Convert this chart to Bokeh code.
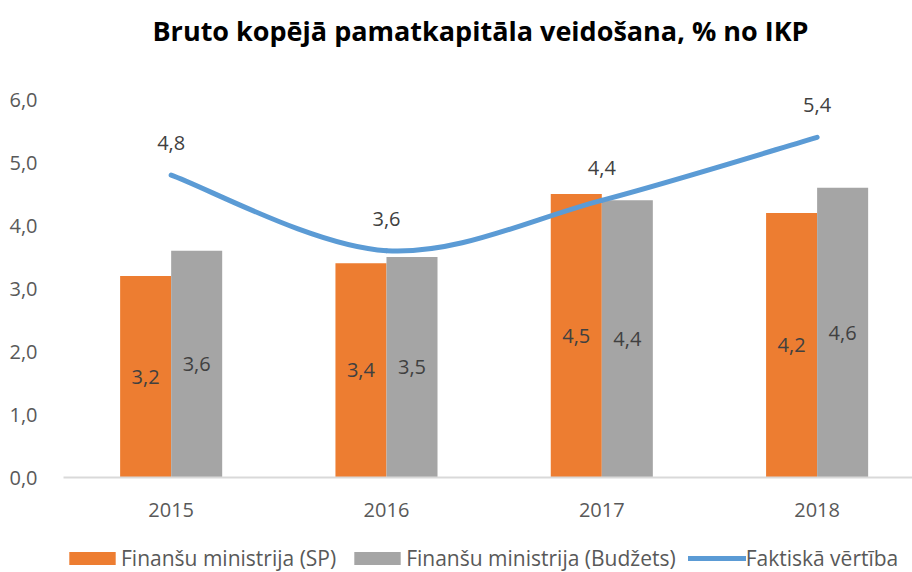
from bokeh.plotting import figure
from bokeh.layouts import column
from bokeh.models import (ColumnDataSource, Range1d, FixedTicker, Legend, LegendItem, Label)
from bokeh.embed import file_html
from bokeh.resources import INLINE

# ---- data ----
years = ["2015", "2016", "2017", "2018"]
fm_sp = [3.2, 3.4, 4.5, 4.2]
fm_budzets = [3.6, 3.5, 4.4, 4.6]
faktiska = [4.8, 3.6, 4.4, 5.4]
y_ticks = [0, 1, 2, 3, 4, 5, 6]

series_names = ["Finanšu ministrija (SP)", "Finanšu ministrija (Budžets)", "Faktiskā vērtība"]
title_text = "Bruto kopējā pamatkapitāla veidošana, % no IKP"

ORANGE = "#ED7D31"
GRAY = "#A5A5A5"
BLUE = "#5B9BD5"
LABEL_FONT = "Open Sans"


def fmt(v):
    return f"{v:.1f}".replace(".", ",")


xc = [i + 0.5 for i in range(len(years))]
bw = 0.237

# frame spans the full height above the axis so the title can sit inside it
p = figure(width=912, height=528, output_backend="svg", toolbar_location=None,
           x_range=Range1d(0, 3.943), y_range=Range1d(0, 477 / 63),
           min_border_left=63, min_border_right=0, min_border_top=0,
           min_border_bottom=51)
p.outline_line_color = None
p.grid.visible = False
p.background_fill_color = "white"

# title
p.add_layout(Label(x=417, y=447, x_units="screen", y_units="screen", text=title_text,
                   text_align="center", text_baseline="middle", text_font="Open Sans",
                   text_font_style="bold", text_font_size="27px", text_color="#000000"))

# bars
src_sp = ColumnDataSource(dict(x=[x - bw / 2 for x in xc], top=fm_sp,
                               ly=[v / 2 for v in fm_sp], lab=[fmt(v) for v in fm_sp]))
src_bu = ColumnDataSource(dict(x=[x + bw / 2 for x in xc], top=fm_budzets,
                               ly=[v / 2 for v in fm_budzets], lab=[fmt(v) for v in fm_budzets]))
p.vbar(x="x", top="top", bottom=0, width=bw, source=src_sp, fill_color=ORANGE, line_color=None)
p.vbar(x="x", top="top", bottom=0, width=bw, source=src_bu, fill_color=GRAY, line_color=None)

# smooth line (Excel style bezier)
n = len(faktiska)
x0s, y0s, x1s, y1s, cx0, cy0, cx1, cy1 = [], [], [], [], [], [], [], []
for i in range(n - 1):
    pm = max(i - 1, 0)
    pp = min(i + 2, n - 1)
    x0s.append(xc[i]); y0s.append(faktiska[i])
    x1s.append(xc[i + 1]); y1s.append(faktiska[i + 1])
    cx0.append(xc[i] + (xc[i + 1] - xc[pm]) / 6)
    cy0.append(faktiska[i] + (faktiska[i + 1] - faktiska[pm]) / 6)
    cx1.append(xc[i + 1] - (xc[pp] - xc[i]) / 6)
    cy1.append(faktiska[i + 1] - (faktiska[pp] - faktiska[i]) / 6)
bsrc = ColumnDataSource(dict(x0=x0s, y0=y0s, x1=x1s, y1=y1s, cx0=cx0, cy0=cy0, cx1=cx1, cy1=cy1))
p.bezier(x0="x0", y0="y0", x1="x1", y1="y1", cx0="cx0", cy0="cy0", cx1="cx1", cy1="cy1",
         source=bsrc, line_color=BLUE, line_width=5, line_cap="round")

# data labels
for src in (src_sp, src_bu):
    p.text(x="x", y="ly", text="lab", source=src, text_align="center", text_baseline="middle",
           text_font={"value": LABEL_FONT}, text_font_size="20px", text_color="#404040")
lsrc = ColumnDataSource(dict(x=xc, y=faktiska, lab=[fmt(v) for v in faktiska]))
p.text(x="x", y="y", text="lab", source=lsrc, text_align="center", text_baseline="middle",
       y_offset=-32, text_font={"value": LABEL_FONT}, text_font_size="20px", text_color="#404040")

# axes
p.xaxis.ticker = FixedTicker(ticks=xc)
p.xaxis.major_label_overrides = {x: y for x, y in zip(xc, years)}
p.xaxis.axis_line_color = "#D9D9D9"
p.xaxis.axis_line_width = 2
p.xaxis.major_tick_line_color = None
p.xaxis.minor_tick_line_color = None
p.xaxis.major_label_standoff = 19
p.xaxis.major_label_text_font = LABEL_FONT
p.xaxis.major_label_text_font_size = "20px"
p.xaxis.major_label_text_color = "#595959"

p.yaxis.ticker = FixedTicker(ticks=y_ticks)
p.yaxis.major_label_overrides = {t: fmt(t) for t in y_ticks}
p.yaxis.axis_line_color = None
p.yaxis.major_tick_line_color = None
p.yaxis.minor_tick_line_color = None
p.yaxis.major_label_standoff = 20
p.yaxis.major_label_text_font = LABEL_FONT
p.yaxis.major_label_text_font_size = "20px"
p.yaxis.major_label_text_color = "#595959"

# legend strip (series kept far out of view, only their legend swatches show)
pl = figure(width=912, height=44, output_backend="svg", toolbar_location=None,
            x_range=Range1d(0, 3.943), y_range=Range1d(1000, 1010),
            x_axis_location=None, y_axis_location=None,
            min_border_left=0, min_border_right=0, min_border_top=0, min_border_bottom=0)
pl.outline_line_color = None
pl.grid.visible = False
g_sp = pl.vbar(x=xc, top=fm_sp, bottom=0, width=bw, fill_color=ORANGE, line_color=None)
g_bu = pl.vbar(x=xc, top=fm_budzets, bottom=0, width=bw, fill_color=GRAY, line_color=None)
g_ln = pl.line(x=xc, y=faktiska, line_color=BLUE, line_width=5, line_cap="round")
legend = Legend(items=[LegendItem(label=series_names[0], renderers=[g_sp]),
                       LegendItem(label=series_names[1], renderers=[g_bu]),
                       LegendItem(label=series_names[2], renderers=[g_ln])],
                orientation="horizontal", location=(0, 0),
                glyph_width=58, glyph_height=16, label_standoff=0, spacing=12,
                padding=0, margin=0, border_line_color=None, background_fill_alpha=0,
                label_text_font=LABEL_FONT, label_text_font_size="21px",
                label_text_color="#595959")
pl.add_layout(legend)

layout = column(p, pl, spacing=0)
open("out.html", "w").write(file_html(layout, INLINE))
